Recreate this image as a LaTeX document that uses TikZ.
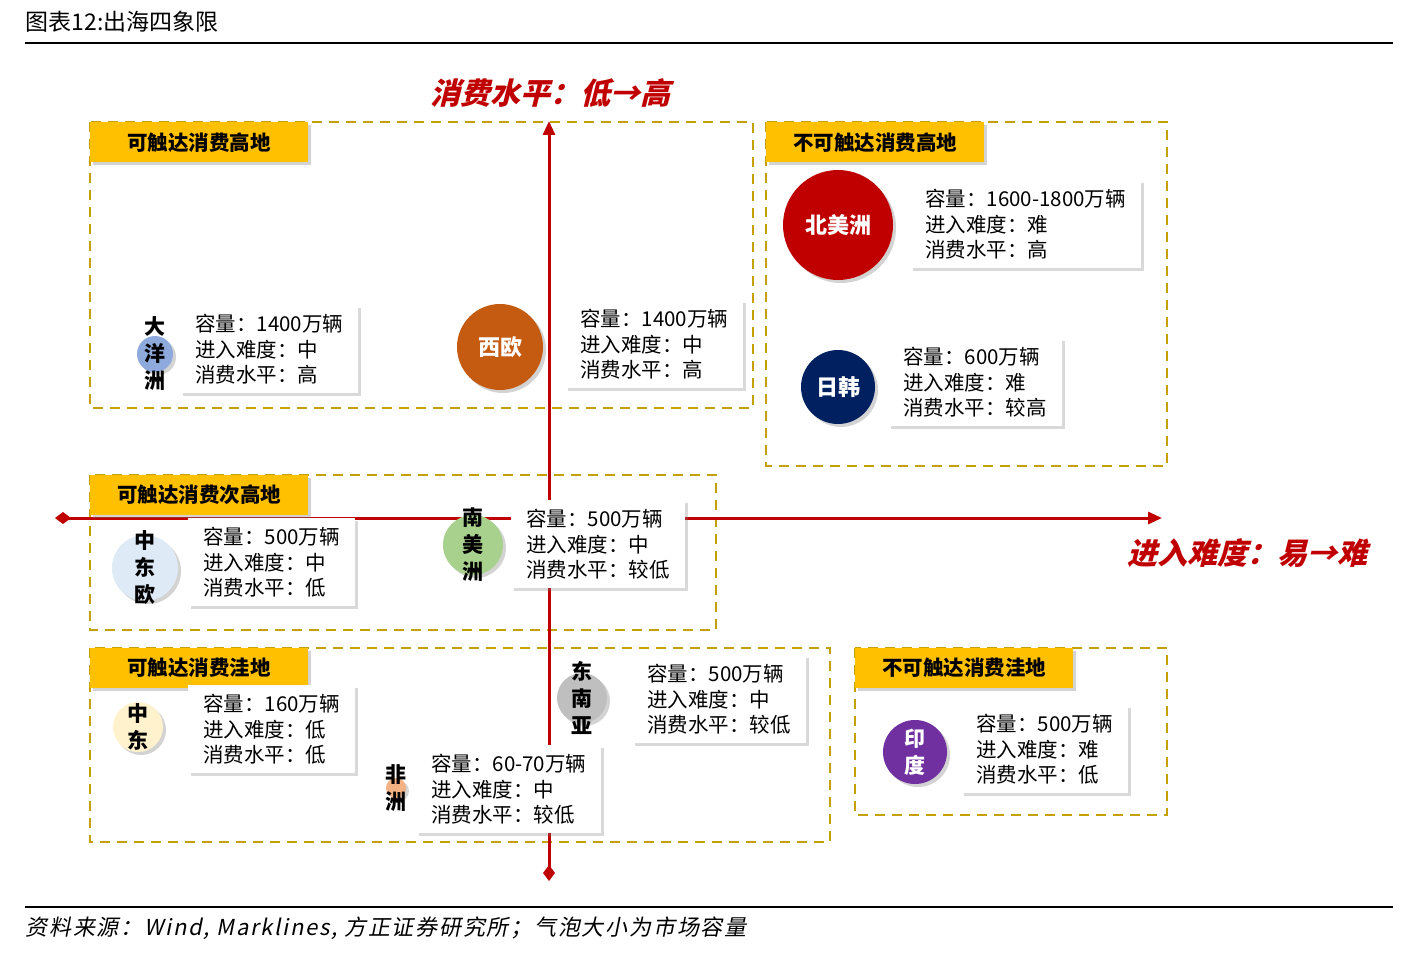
\documentclass[tikz,border=0pt]{standalone}
\usepackage{fontspec}
\setmainfont{Noto Sans CJK SC}
\newfontfamily\cjkit{Noto Sans CJK SC}[FakeSlant=0.25]
\newfontfamily\cjksrc{Noto Sans CJK SC}[FakeSlant=0.2,LetterSpace=8]
\usetikzlibrary{positioning,shadows,arrows.meta}
\definecolor{axisred}{RGB}{192,0,0}
\definecolor{gold}{RGB}{196,160,0}
\definecolor{tabfill}{RGB}{255,192,0}
\tikzset{
    zone/.style={
           draw=gold, line width=2.5pt,
           dash pattern=on 10pt off 7pt,
           },
    tab/.style={
           rectangle,
           fill=tabfill,
           drop shadow={shadow xshift=3pt,shadow yshift=-3pt,opacity=.35},
           minimum width=218pt, minimum height=40pt,
           anchor=north west,
           font=\fontsize{20.5}{23}\selectfont\bfseries,
           },
    info/.style={
           rectangle,
           fill=white,
           drop shadow={shadow xshift=3pt,shadow yshift=-3pt,opacity=.3},
           anchor=north west,
           align=left,
           inner xsep=15pt, inner ysep=9pt,
           font=\fontsize{20.5}{25.5}\selectfont,
           },
    bubble/.style={
           circle, inner sep=0pt,
           drop shadow={shadow xshift=3pt,shadow yshift=-3pt,opacity=.35},
           },
    vname/.style={
           align=center,
           font=\fontsize{21}{27}\selectfont\bfseries,
           },
}
\newcommand{\infotext}[3]{容量：#1\\进入难度：#2\\消费水平：#3}

\begin{document}
\begin{tikzpicture}[x=1pt,y=-1pt]
 \useasboundingbox (0,0) rectangle (1423,960);

 % header and footer
 \node[anchor=west,font=\fontsize{23}{25}\selectfont] (TITLE) at (22,22) {图表12:出海四象限};
 \draw[line width=2.5pt] (25,43) -- (1393,43);
 \draw[line width=2.5pt] (25,907) -- (1393,907);
 \node[anchor=west,font=\cjksrc\fontsize{22}{24}\selectfont] (SOURCE) at (22,928)
  {资料来源：Wind, Marklines, 方正证券研究所；气泡大小为市场容量};

 % zones
 \draw[zone] (90,122) rectangle (753,408);
 \draw[zone] (766,122) rectangle (1167,466);
 \draw[zone] (90,475) rectangle (716,630);
 \draw[zone] (90,648) rectangle (830,842);
 \draw[zone] (855,648) rectangle (1167,815);

 % axes
 \coordinate (YBOT) at (549,873);
 \coordinate (YTOP) at (549,121);
 \coordinate (XLEFT) at (63,518);
 \coordinate (XRIGHT) at (1162,518);
 \draw[axisred, line width=3pt, -{Triangle[length=14pt,width=12pt]}] (YBOT) -- (YTOP);
 \draw[axisred, line width=3pt, -{Triangle[length=14pt,width=12pt]}] (XLEFT) -- (XRIGHT);
 \fill[axisred] (YBOT) +(0,-8) -- +(6,0) -- +(0,8) -- +(-6,0) -- cycle;
 \fill[axisred] (XLEFT) +(-8,0) -- +(0,6) -- +(8,0) -- +(0,-6) -- cycle;
 \node[axisred,font=\cjkit\fontsize{30}{32}\selectfont\bfseries] (YLABEL) at (550,93) {消费水平：低→高};
 \node[axisred,font=\cjkit\fontsize{30}{32}\selectfont\bfseries] (XLABEL) at (1247,553) {进入难度：易→难};

 % zone tabs
 \node[tab] (TAB1) at (90,122) {可触达消费高地};
 \node[tab] (TAB2) at (766,122) {不可触达消费高地};
 \node[tab] (TAB3) at (90,475) {可触达消费次高地};
 \node[tab] (TAB4) at (90,648) {可触达消费洼地};
 \node[tab] (TAB5) at (855,648) {不可触达消费洼地};

 % bubbles
 \node[bubble,fill=axisred,minimum size=110pt,text=white,font=\fontsize{22}{24}\selectfont\bfseries] (NAM) at (838,225) {北美洲};
 \node[bubble,fill={rgb,255:red,0;green,32;blue,96},minimum size=74pt,text=white,font=\fontsize{22}{24}\selectfont\bfseries] (JPKR) at (838,387) {日韩};
 \node[bubble,fill={rgb,255:red,197;green,90;blue,17},minimum size=86pt,text=white,font=\fontsize{22}{24}\selectfont\bfseries] (WEU) at (500,347) {西欧};
 \node[bubble,fill={rgb,255:red,142;green,169;blue,219},minimum size=36pt] (OCE) at (155,354) {};
 \node[vname] at (OCE) {大\\洋\\洲};
 \node[bubble,fill={rgb,255:red,169;green,209;blue,142},minimum size=60pt] (SAM) at (473,545) {};
 \node[vname] at (SAM) {南\\美\\洲};
 \node[bubble,fill={rgb,255:red,222;green,235;blue,247},minimum size=66pt] (CEE) at (145,568) {};
 \node[vname] at (CEE) {中\\东\\欧};
 \node[bubble,fill={rgb,255:red,191;green,191;blue,191},minimum size=50pt] (SEA) at (582,698) {};
 \node[vname] at (SEA) {东\\南\\亚};
 \node[bubble,fill={rgb,255:red,255;green,242;blue,204},minimum size=50pt] (MEA) at (138,727) {};
 \node[vname] at (MEA) {中\\东};
 \node[bubble,fill={rgb,255:red,244;green,177;blue,131},minimum size=20pt] (AFR) at (396,788) {};
 \node[vname] at (AFR) {非\\洲};
 \node[bubble,fill={rgb,255:red,112;green,48;blue,160},minimum size=64pt] (IND) at (915,752) {};
 \node[vname,text=white] at (IND) {印\\度};

 % info boxes
 \node[info] (NAM_INFO) at (910,180) {\infotext{1600-1800万辆}{难}{高}};
 \node[info] (JPKR_INFO) at (888,338) {\infotext{600万辆}{难}{较高}};
 \node[info] (WEU_INFO) at (565,300) {\infotext{1400万辆}{中}{高}};
 \node[info] (OCE_INFO) at (180,305) {\infotext{1400万辆}{中}{高}};
 \node[info] (CEE_INFO) at (188,518) {\infotext{500万辆}{中}{低}};
 \node[info] (SAM_INFO) at (511,500) {\infotext{500万辆}{中}{较低}};
 \node[info] (SEA_INFO) at (632,655) {\infotext{500万辆}{中}{较低}};
 \node[info] (MEA_INFO) at (188,685) {\infotext{160万辆}{低}{低}};
 \node[info] (AFR_INFO) at (416,745) {\infotext{60-70万辆}{中}{较低}};
 \node[info] (IND_INFO) at (961,705) {\infotext{500万辆}{难}{低}};
\end{tikzpicture}
\end{document}
